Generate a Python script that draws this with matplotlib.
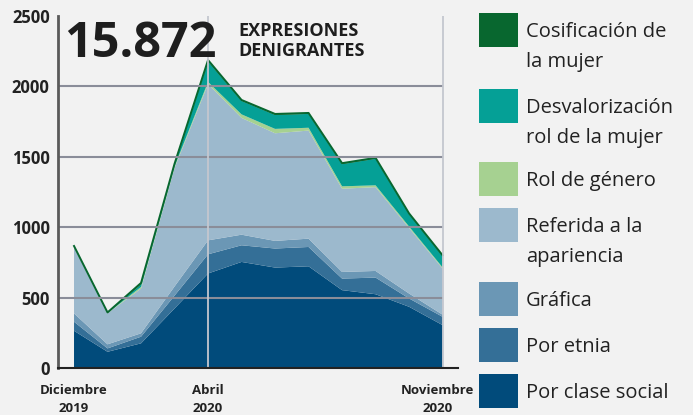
import numpy as np
import matplotlib.pyplot as plt
from matplotlib.patches import Rectangle
from matplotlib.transforms import ScaledTranslation

plt.rcParams['font.family'] = ['Open Sans', 'DejaVu Sans']

months = ["Dic", "Ene", "Feb", "Mar", "Abr", "May", "Jun", "Jul", "Ago", "Sep", "Oct", "Nov"]
tick_idx = [0, 4, 11]
tick_labels = ["Diciembre\n2019", "Abril\n2020", "Noviembre\n2020"]

# series, bottom to top of the stack
clase_social = [266, 117, 177, 424, 672, 754, 714, 723, 554, 525, 436, 306]
etnia = [64, 24, 47, 91, 136, 118, 135, 137, 82, 118, 59, 59]
grafica = [59, 29, 24, 65, 99, 75, 54, 59, 47, 47, 35, 15]
apariencia = [471, 220, 317, 840, 1108, 828, 763, 766, 590, 594, 465, 327]
rol_genero = [3, 2, 12, 10, 15, 25, 31, 20, 17, 13, 10, 8]
desvalorizacion = [0, 1, 18, 15, 145, 95, 99, 98, 157, 188, 87, 80]
cosificacion = [4, 3, 10, 5, 10, 7, 7, 7, 7, 7, 6, 6]

series = [clase_social, etnia, grafica, apariencia, rol_genero, desvalorizacion, cosificacion]
colors = ["#014b7b", "#346f97", "#6b97b5", "#9cb9cd", "#a6d191", "#05a096", "#08672f"]
legend_labels = ["Cosificación de\nla mujer", "Desvalorización\nrol de la mujer", "Rol de género",
                 "Referida a la\napariencia", "Gráfica", "Por etnia", "Por clase social"]

total_label = "15.872"
subtitle = "EXPRESIONES\nDENIGRANTES"

bg = "#f2f2f2"
W, H = 693, 415
fig = plt.figure(figsize=(W / 100, H / 100), dpi=100, facecolor=bg)
ax = fig.add_axes([58 / W, 1 - 368.3 / H, (458 - 58) / W, (368.3 - 15.6) / H])
ax.set_facecolor(bg)

x = np.arange(len(months))
ax.stackplot(x, *series, colors=colors, linewidth=0, zorder=1)
top = np.sum(series, axis=0)
ax.plot(x, top, color="#08672f", lw=1.4, zorder=1.5)

ax.set_xlim(-0.478, 11.46)
ax.set_ylim(0, 2500)

ax.hlines([500, 1000, 1500, 2000], -0.478, 11, color="#8a8d99", lw=1.5, zorder=2)
ax.vlines([4, 11], 0, 2500, color="#c4c7cf", lw=1.3, zorder=2)

ax.set_yticks([0, 500, 1000, 1500, 2000, 2500])
ax.set_yticklabels(["0", "500", "1000", "1500", "2000", "2500"], fontsize=12, fontweight="bold", color="#222222")
ax.set_xticks(tick_idx)
ax.set_xticklabels(tick_labels, fontsize=9.5, fontweight="bold", color="#222222", linespacing=1.5)
ax.tick_params(axis="y", length=0, pad=6)
ax.tick_params(axis="x", length=0, pad=11)
nov = ax.get_xticklabels()[2]
nov.set_transform(nov.get_transform() + ScaledTranslation(-5 / 100, 0, fig.dpi_scale_trans))

for s in ["top", "right"]:
    ax.spines[s].set_visible(False)
ax.spines["left"].set_color("#5a5a5a")
ax.spines["left"].set_linewidth(2)
ax.spines["bottom"].set_color("#222222")
ax.spines["bottom"].set_linewidth(1.5)
ax.spines["left"].set_zorder(3)
ax.spines["bottom"].set_zorder(3)

# overlay in pixel coordinates for title and legend
lax = fig.add_axes([0, 0, 1, 1])
lax.set_xlim(0, W)
lax.set_ylim(H, 0)
lax.axis("off")

lax.text(64, 57, total_label, fontsize=35, fontweight="bold", color="#1e1e1e", va="baseline", ha="left")
sub = subtitle.split("\n")
lax.text(238, 36, sub[0], fontsize=13, fontweight="bold", color="#1e1e1e", va="baseline")
lax.text(238, 56, sub[1], fontsize=13, fontweight="bold", color="#1e1e1e", va="baseline")

sq_tops = [13, 89, 162, 208, 282, 328, 374]
for t, lab, c in zip(sq_tops, legend_labels, colors[::-1]):
    lax.add_patch(Rectangle((479, t), 39, 34, color=c, lw=0))
    for k, line in enumerate(lab.split("\n")):
        lax.text(526, t + 24 + 30 * k, line, fontsize=14.5, color="#222222", va="baseline", ha="left")

fig.savefig("out.png", dpi=100, facecolor=bg)
